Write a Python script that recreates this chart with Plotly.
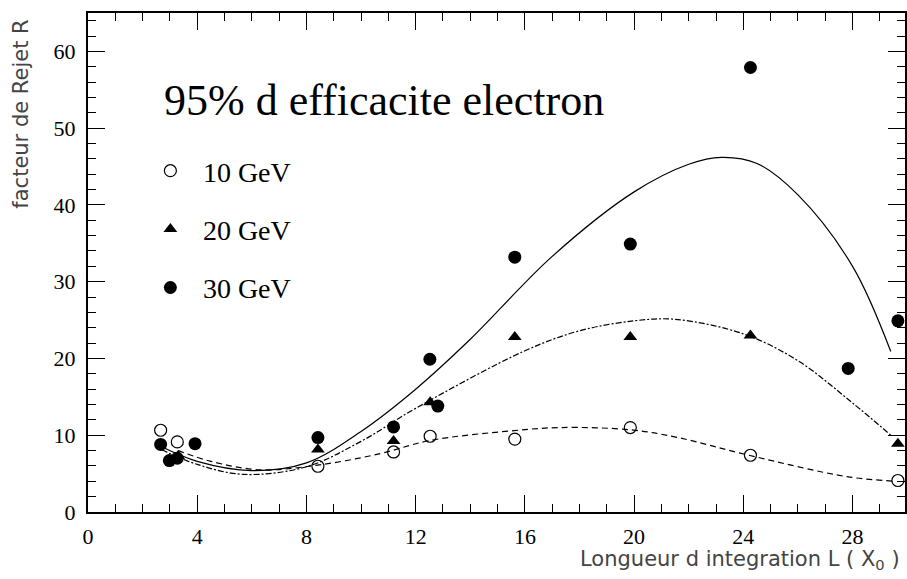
import plotly.graph_objects as go

# ---------------- data ----------------
x_tick_vals = [0, 4, 8, 12, 16, 20, 24, 28]
y_tick_vals = [0, 10, 20, 30, 40, 50, 60]

# measured points
L_10 = [2.66, 3.27, 8.42, 11.19, 12.53, 15.63, 19.86, 24.26, 29.66]
R_10 = [10.65, 9.13, 5.96, 7.82, 9.87, 9.5, 11.0, 7.39, 4.1]

L_20 = [3.3, 8.42, 11.19, 12.53, 15.63, 19.86, 24.26, 29.66]
R_20 = [7.3, 8.13, 9.26, 14.3, 22.8, 22.8, 23.0, 8.9]

L_30 = [2.66, 2.98, 3.27, 3.92, 8.42, 11.19, 12.52, 12.81, 15.63, 19.86, 24.26, 27.84, 29.66]
R_30 = [8.8, 6.7, 7.0, 8.9, 9.7, 11.08, 19.9, 13.8, 33.2, 34.9, 57.9, 18.7, 24.9]

# fitted curves
fitL_10 = [3.3, 4.5, 6.3, 8.4, 10.7, 12.5, 15.6, 17.3, 19.9, 21.6, 24.2, 27.8, 29.6]
fitR_10 = [8.0, 6.6, 5.5, 6.1, 7.6, 9.3, 10.6, 11.0, 10.7, 9.7, 7.4, 4.6, 4.0]

fitL_20 = [2.7, 4.0, 5.7, 8.0, 10.0, 12.0, 16.0, 18.0, 20.0, 21.5, 24.0, 26.0, 28.0, 29.4]
fitR_20 = [8.1, 6.2, 4.9, 5.9, 9.2, 13.5, 21.0, 23.6, 24.9, 25.1, 23.2, 19.7, 14.2, 10.0]

fitL_30 = [2.7, 4.0, 6.0, 8.0, 10.0, 12.0, 14.0, 17.0, 20.0, 22.0, 23.2, 24.5, 26.0, 28.0, 29.4]
fitR_30 = [8.5, 6.6, 5.4, 6.4, 10.5, 16.0, 22.5, 33.3, 41.7, 45.3, 46.2, 45.4, 41.3, 32.0, 20.9]

labels = ["10 GeV", "20 GeV", "30 GeV"]
title_text = "95% d efficacite electron"
x_title = "Longueur d integration L ( X<sub>0</sub> )"
y_title = "facteur de Rejet R"

# ---------------- figure ----------------
W, H = 907, 579
ML, MR, MT, MB = 88, 0, 13, 67
SERIF = "Liberation Serif, Times New Roman, Times, serif"
SANS = "DejaVu Sans, sans-serif"

fig = go.Figure()

fig.add_trace(go.Scatter(x=fitL_10, y=fitR_10, mode="lines", showlegend=False,
                         line=dict(color="black", width=1.2, dash="6px,4px", shape="spline", smoothing=1)))
fig.add_trace(go.Scatter(x=fitL_20, y=fitR_20, mode="lines", showlegend=False,
                         line=dict(color="black", width=1.2, dash="6px,2px,2px,2px", shape="spline", smoothing=1)))
fig.add_trace(go.Scatter(x=fitL_30, y=fitR_30, mode="lines", showlegend=False,
                         line=dict(color="black", width=1.2, shape="spline", smoothing=1)))

fig.add_trace(go.Scatter(x=L_10, y=R_10, mode="markers", name=labels[0], legendgroup="a",
                         marker=dict(symbol="circle-open", size=12, color="black", line=dict(width=1.2))))
fig.add_trace(go.Scatter(x=L_20, y=R_20, mode="markers", name=labels[1], legendgroup="b",
                         marker=dict(symbol="triangle-up", size=12, color="black")))
fig.add_trace(go.Scatter(x=L_30, y=R_30, mode="markers", name=labels[2], legendgroup="c",
                         marker=dict(symbol="circle", size=13, color="black")))

tickfont = dict(family=SERIF, size=22, color="black")

fig.update_xaxes(range=[0, 29.92], tickvals=x_tick_vals, ticks="inside", ticklen=17, tickwidth=1.3,
                 tickcolor="black", showline=True, linecolor="black", linewidth=2, mirror="allticks",
                 showgrid=False, zeroline=False, tickfont=tickfont, ticklabelstandoff=4,
                 minor=dict(dtick=1, tick0=0, ticks="inside", ticklen=8, tickwidth=1.2, tickcolor="black"))
fig.update_yaxes(range=[0, 65], tickvals=y_tick_vals, ticks="inside", ticklen=17, tickwidth=1.3,
                 tickcolor="black", showline=True, linecolor="black", linewidth=2, mirror="allticks",
                 showgrid=False, zeroline=False, tickfont=tickfont, ticklabelstandoff=6,
                 minor=dict(dtick=2, tick0=0, ticks="inside", ticklen=8, tickwidth=1.2, tickcolor="black"))

pw = W - ML - MR
ph = H - MT - MB

def px_x(p):
    return (p - ML) / pw

def px_y(p):
    return (H - MB - p) / ph

fig.add_annotation(text=title_text, xref="paper", yref="paper", x=px_x(162), y=px_y(101),
                   xanchor="left", yanchor="middle", showarrow=False,
                   font=dict(family=SERIF, size=44, color="black"))
fig.add_annotation(text=y_title, xref="paper", yref="paper", x=px_x(20), y=px_y(18),
                   xanchor="center", yanchor="top", textangle=-90, showarrow=False,
                   font=dict(family=SANS, size=21, color="#444444"))
fig.add_annotation(text=x_title, xref="paper", yref="paper", x=px_x(904), y=px_y(560),
                   xanchor="right", yanchor="middle", showarrow=False,
                   font=dict(family=SANS, size=21, color="#444444"))

fig.update_layout(
    width=W, height=H,
    margin=dict(l=ML, r=MR, t=MT, b=MB),
    paper_bgcolor="white", plot_bgcolor="white",
    legend=dict(x=px_x(138), y=px_y(146), xanchor="left", yanchor="top",
                font=dict(family=SERIF, size=28, color="black"),
                bgcolor="rgba(0,0,0,0)", tracegroupgap=19, itemwidth=55),
)

fig.write_html("out.html")
